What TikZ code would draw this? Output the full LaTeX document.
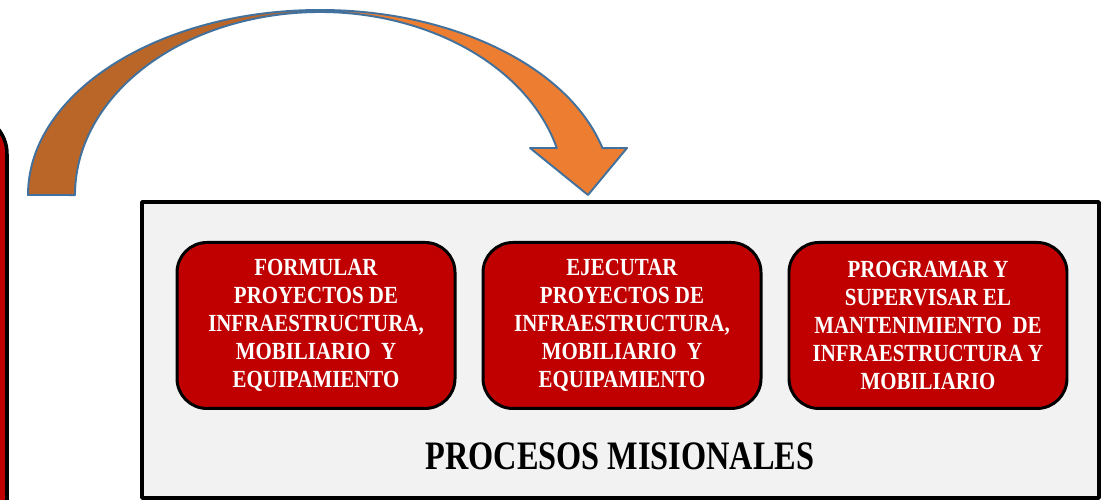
\documentclass[tikz,border=0pt]{standalone}
\usepackage{fontspec}
\setmainfont{Liberation Serif}
\newfontfamily\cajafont[FakeStretch=0.85]{Liberation Serif}
\newfontfamily\titulofont[FakeStretch=0.8]{Liberation Serif}
\usetikzlibrary{positioning}
\definecolor{rojocaja}{HTML}{C00000}
\definecolor{grisfondo}{HTML}{F2F2F2}
\definecolor{naranja}{HTML}{ED7D31}
\definecolor{cafe}{HTML}{BB6629}
\definecolor{bordeflecha}{HTML}{41719C}

\begin{document}
\begin{tikzpicture}[line cap=round,line join=round,x=1.0cm,y=1.0cm,
	proceso/.style={draw=black,line width=1.7pt,fill=rojocaja,rounded corners=0.6cm,minimum width=5.56cm,minimum height=3.32cm,align=center,text=white,font=\cajafont\bfseries\fontsize{14}{16}\selectfont}]
				\useasboundingbox (0,0) rectangle (22.06,10);
				\clip (0,0) rectangle (22.06,10);
				% caja roja de la izquierda, casi fuera del dibujo
				\draw [line width=2pt,fill=rojocaja,rounded corners=0.8cm] (-2.,-1.) rectangle (0.14,7.72);
				% flecha curva
				\path [save path=\flecha] (0.56,6.1) arc[start angle=180,end angle=14.7,x radius=5.84,y radius=3.7] -- (12.54,7.04) -- (11.76,6.1) -- (10.6,7.04) -- (11.135,7.04) arc[start angle=14.9,end angle=180,x radius=4.9,y radius=3.66] -- cycle;
				\fill [naranja,use path=\flecha];
				\begin{scope}
					\clip (0,0) rectangle (6.86,10);
					\fill [cafe,use path=\flecha];
				\end{scope}
				\draw [line width=1.1pt,bordeflecha,use path=\flecha];
				% procesos misionales
				\node [draw=black,line width=2pt,fill=grisfondo,minimum width=19.14cm,minimum height=5.92cm,inner sep=0pt] (misionales) at (12.41,3.0) {};
				\node [proceso] (ejecutar) at (12.44,3.49) {EJECUTAR\\PROYECTOS DE\\INFRAESTRUCTURA,\\MOBILIARIO~ Y\\EQUIPAMIENTO};
				\node [proceso,left=0.5cm of ejecutar] (formular) {FORMULAR\\PROYECTOS DE\\INFRAESTRUCTURA,\\MOBILIARIO~ Y\\EQUIPAMIENTO};
				\node [proceso,right=0.5cm of ejecutar] (programar) {PROGRAMAR Y\\SUPERVISAR EL\\MANTENIMIENTO~ DE\\INFRAESTRUCTURA Y\\MOBILIARIO};
				\node [font=\titulofont\bfseries\fontsize{23}{28}\selectfont] (titulo) at (12.4,0.88) {PROCESOS MISIONALES};
			\end{tikzpicture}
\end{document}
